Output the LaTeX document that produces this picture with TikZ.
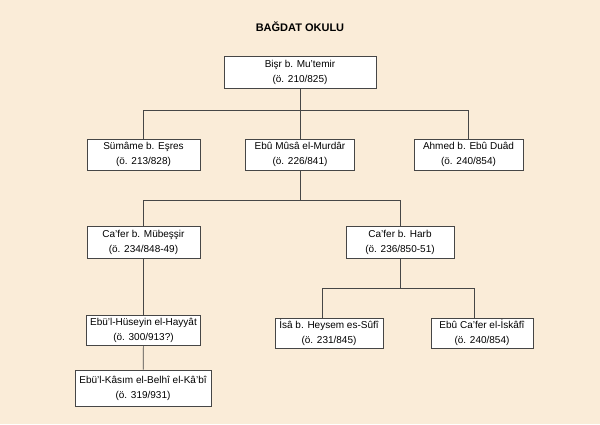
\documentclass[tikz,border=0pt]{standalone}
\usepackage{fontspec}
\setmainfont{Liberation Sans}
\definecolor{paper}{RGB}{250,236,216}
\definecolor{ink}{RGB}{70,70,70}

\begin{document}
\begin{tikzpicture}
  [x=1pt,y=-1pt,
   every node/.style={draw=ink,fill=white,line width=.7pt,inner sep=0pt,
     minimum height=31,align=center,font=\fontsize{10}{15}\selectfont},
   line/.style={draw=ink,line width=.7pt}]
  \fill[paper] (0,0) rectangle (600,424);
  \useasboundingbox (0,0) rectangle (600,424);

  \node[draw=none,fill=none,font=\fontsize{11}{13}\bfseries\selectfont] (title) at (300,27) {BAĞDAT OKULU};

  \node[minimum width=152,minimum height=32] (bisr) at (300,72) {Bişr b. Mu'temir\\(ö. 210/825)};
  \node[minimum width=113] (sumame) at (143.5,154.5) {Sümâme b. Eşres\\(ö. 213/828)};
  \node[minimum width=109] (murdar) at (300,154.5) {Ebû Mûsâ el-Murdâr\\(ö. 226/841)};
  \node[minimum width=109] (ahmed)  at (468.5,154.5) {Ahmed b. Ebû Duâd\\(ö. 240/854)};
  \node[minimum width=113,minimum height=32] (mubessir) at (143.5,242) {Ca'fer b. Mübeşşir\\(ö. 234/848-49)};
  \node[minimum width=108,minimum height=32] (harb) at (400,242) {Ca'fer b. Harb\\(ö. 236/850-51)};
  \node[minimum width=114,minimum height=30] (hayyat) at (143.5,330) {Ebü'l-Hüseyin el-Hayyât\\(ö. 300/913?)};
  \node[minimum width=108,minimum height=30] (isa) at (329,333) {İsâ b. Heysem es-Sûfî\\(ö. 231/845)};
  \node[minimum width=102,minimum height=30] (iskafi) at (482,333) {Ebû Ca'fer el-İskâfî\\(ö. 240/854)};
  \node[minimum width=136,minimum height=36] (kabi) at (143,388) {Ebü'l-Kâsım el-Belhî el-Kâ'bî\\(ö. 319/931)};

  \coordinate (b1) at (300,110);
  \coordinate (b2) at (300,200);
  \coordinate (b3) at (400,288);

  \foreach \from/\to in {bisr/b1,murdar/b2,harb/b3,mubessir/hayyat,hayyat/kabi}
    \draw[line] (\from) -- (\to);
  \foreach \from/\to in {b1/sumame,b1/murdar,b1/ahmed,b2/mubessir,b2/harb}
    \draw[line] (\from) -| (\to);
  % the two lower drops sit a bit left of the box centres
  \draw[line] (b3) -| ([xshift=-7]isa.north);
  \draw[line] (b3) -| ([xshift=-8]iskafi.north);
\end{tikzpicture}
\end{document}
